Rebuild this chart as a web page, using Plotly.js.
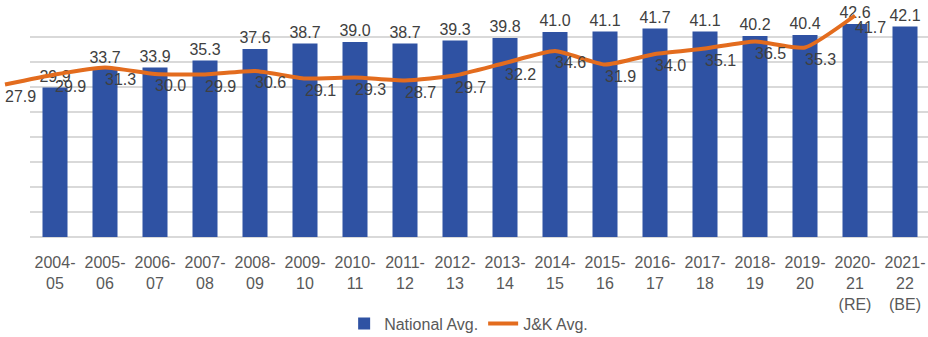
<!DOCTYPE html>
<html>
<head>
<meta charset="utf-8">
<script src="https://cdn.plot.ly/plotly-3.0.1.min.js"></script>
<style>html,body{margin:0;padding:0;background:#fff;}#chart{width:928px;height:337px;}</style>
</head>
<body>
<div id="chart"></div>
<script>
const categories = ["2004-<br>05","2005-<br>06","2006-<br>07","2007-<br>08","2008-<br>09","2009-<br>10","2010-<br>11","2011-<br>12","2012-<br>13","2013-<br>14","2014-<br>15","2015-<br>16","2016-<br>17","2017-<br>18","2018-<br>19","2019-<br>20","2020-<br>21<br>(RE)","2021-<br>22<br>(BE)"];
const nationalAvg = [29.9,33.7,33.9,35.3,37.6,38.7,39.0,38.7,39.3,39.8,41.0,41.1,41.7,41.1,40.2,40.4,42.6,42.1];
const jkAvg = [27.9,29.9,31.3,30.0,29.9,30.6,29.1,29.3,28.7,29.7,32.2,34.6,31.9,34.0,35.1,36.5,35.3,41.7];

const FONT = "Liberation Sans, Arial, sans-serif";
const labelColor = "#404040";

const traces = [
  {
    type: "bar", name: "National Avg.", x: categories, y: nationalAvg,
    xaxis: "x", yaxis: "y",
    marker: {color: "#2F52A3"},
    text: nationalAvg.map(v => v.toFixed(1)), textposition: "outside",
    constraintext: "none",
    textfont: {family: FONT, size: 16, color: labelColor},
    cliponaxis: false, hoverinfo: "skip"
  },
  {
    type: "scatter", mode: "lines", name: "J&K Avg.", x: categories, y: jkAvg,
    xaxis: "x2", yaxis: "y2",
    line: {color: "#E36C1E", width: 4, shape: "spline", smoothing: 0.5},
    hoverinfo: "skip"
  },
  {
    type: "scatter", mode: "text", showlegend: false, x: categories, y: jkAvg,
    xaxis: "x2", yaxis: "y3",
    text: jkAvg.map(v => v.toFixed(1)), textposition: "middle right",
    textfont: {family: FONT, size: 16, color: labelColor},
    cliponaxis: false, hoverinfo: "skip"
  }
];

const layout = {
  width: 928, height: 337,
  margin: {l: 0, r: 0, t: 12, b: 100, autoexpand: false},
  paper_bgcolor: "#ffffff", plot_bgcolor: "rgba(0,0,0,0)",
  font: {family: FONT, size: 16, color: "#595959"},
  bargap: 0.5,
  showlegend: true,
  legend: {orientation: "h", xref: "container", yref: "container", x: 0.505, xanchor: "center",
           y: 0.04, yanchor: "middle",
           font: {family: FONT, size: 16, color: "#595959"}, bgcolor: "rgba(0,0,0,0)"},
  xaxis: {type: "category", domain: [30/928, 1], range: [-0.5, 17.46], automargin: false,
          showgrid: false, zeroline: false, showline: false, ticks: "",
          tickfont: {family: FONT, size: 16, color: "#595959"}, ticklabelstandoff: 14,
          fixedrange: true},
  yaxis: {range: [0, 45], dtick: 5, showticklabels: false, showgrid: true, automargin: false,
          gridcolor: "#d9d9d9", gridwidth: 2, zeroline: true, zerolinecolor: "#d9d9d9",
          zerolinewidth: 2, showline: false, ticks: "", fixedrange: true},
  xaxis2: {type: "category", domain: [0, 1], range: [-0.1, 18.46], anchor: "y2",
           visible: false, showgrid: false, fixedrange: true},
  yaxis2: {range: [-2.6, 42.4], anchor: "x2", visible: false, showgrid: false, zeroline: false, fixedrange: true},
  yaxis3: {range: [0, 45], anchor: "x2", overlaying: "y2", visible: false, showgrid: false, zeroline: false, fixedrange: true}
};

Plotly.newPlot("chart", traces, layout, {displayModeBar: false, staticPlot: true});
</script>
</body>
</html>
